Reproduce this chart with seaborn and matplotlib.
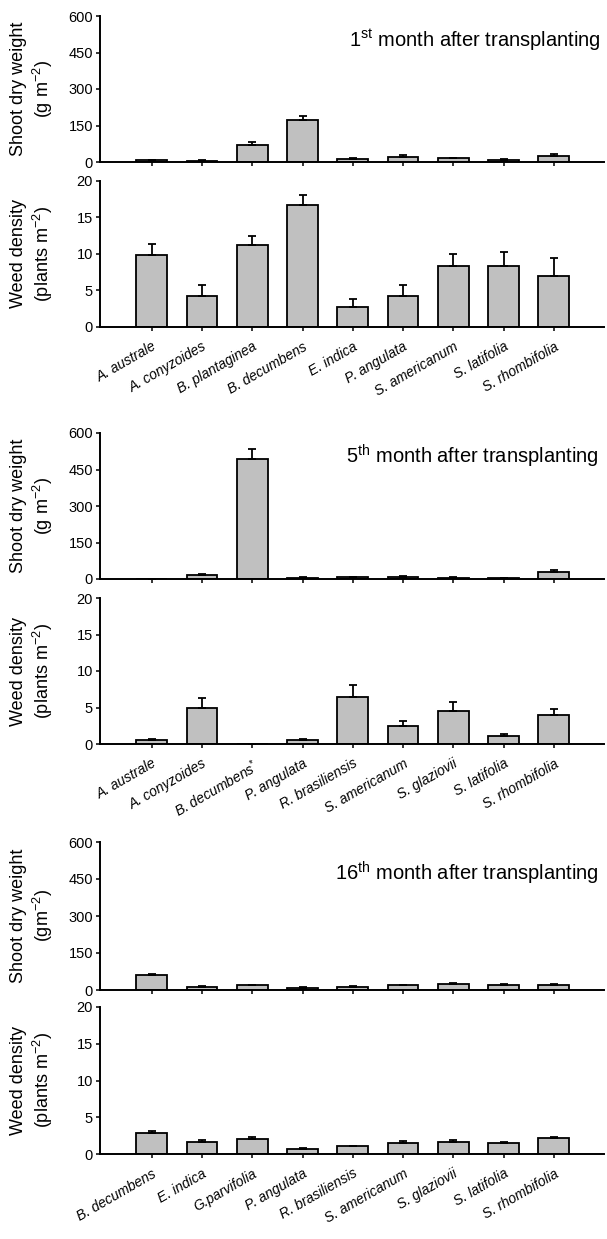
import numpy as np
import pandas as pd
import matplotlib
matplotlib.use('Agg')
import matplotlib.pyplot as plt
import seaborn as sns

# species per sampling date
species_1 = ['A. australe', 'A. conyzoides', 'B. plantaginea', 'B. decumbens', 'E. indica',
             'P. angulata', 'S. americanum', 'S. latifolia', 'S. rhombifolia']
species_5 = ['A. australe', 'A. conyzoides', 'B. decumbens$^{*}$', 'P. angulata', 'R. brasiliensis',
             'S. americanum', 'S. glaziovii', 'S. latifolia', 'S. rhombifolia']
species_16 = ['B. decumbens', 'E. indica', 'G.parvifolia', 'P. angulata', 'R. brasiliensis',
              'S. americanum', 'S. glaziovii', 'S. latifolia', 'S. rhombifolia']

# shoot dry weight (g m-2) and standard errors
shoot_1 = [7, 6, 68, 172, 12, 22, 15, 10, 26]
shoot_1_err = [2, 2, 15, 19, 4, 6, 2, 3, 8]
shoot_5 = [1, 15, 493, 5, 7, 8, 6, 4, 30]
shoot_5_err = [0.5, 4, 40, 2, 3, 3, 2, 1, 7]
shoot_16 = [60, 13, 19, 10, 13, 19, 26, 22, 22]
shoot_16_err = [4, 2, 2, 2, 2, 2, 2, 2, 2]

# weed density (plants m-2) and standard errors
dens_1 = [9.8, 4.2, 11.2, 16.7, 2.8, 4.2, 8.4, 8.4, 7.0]
dens_1_err = [1.5, 1.5, 1.25, 1.3, 1.0, 1.5, 1.6, 1.9, 2.4]
dens_5 = [0.5, 5.0, 0, 0.5, 6.5, 2.5, 4.5, 1.05, 4.0]
dens_5_err = [0.25, 1.3, 0, 0.2, 1.6, 0.6, 1.3, 0.3, 0.75]
dens_16 = [2.9, 1.65, 2.05, 0.7, 1.05, 1.5, 1.7, 1.45, 2.2]
dens_16_err = [0.2, 0.25, 0.3, 0.15, 0.1, 0.25, 0.2, 0.15, 0.15]

sns.set_style('ticks')
plt.rcParams['font.family'] = ['Liberation Sans', 'DejaVu Sans']
plt.rcParams['mathtext.fontset'] = 'custom'
plt.rcParams['mathtext.rm'] = 'Liberation Sans'
plt.rcParams['mathtext.it'] = 'Liberation Sans:italic'
plt.rcParams['mathtext.bf'] = 'Liberation Sans:bold'
for key in ['text.color', 'axes.labelcolor', 'xtick.color', 'ytick.color', 'axes.edgecolor']:
    plt.rcParams[key] = 'black'

fig = plt.figure(figsize=(6.07, 12.39), dpi=100)
W, H = 607, 1239


def make_ax(top, bottom):
    return fig.add_axes([100 / W, 1 - bottom / H, 504 / W, (bottom - top) / H])


def draw(ax, names, vals, errs, ymax, step, ylabel, labels=True):
    df = pd.DataFrame({'species': names, 'value': vals})
    sns.barplot(data=df, x='species', y='value', color='#c0c0c0', edgecolor='black',
                linewidth=1.3, width=0.61, saturation=1, errorbar=None, ax=ax)
    pos = np.arange(len(names))
    ax.errorbar(pos, vals, yerr=[np.zeros(len(errs)), errs], fmt='none', ecolor='black',
                elinewidth=1.3, capsize=3, capthick=1.3, zorder=5)
    ax.set_xlim(-1.03, 9.0)
    ax.set_ylim(0, ymax)
    ax.set_yticks(np.arange(0, ymax + 1, step))
    ax.set_xlabel('')
    ax.set_ylabel(ylabel, fontsize=13)
    ax.yaxis.set_label_coords(-0.09, 0.5)
    for s in ['top', 'right']:
        ax.spines[s].set_visible(False)
    for s in ['left', 'bottom']:
        ax.spines[s].set_linewidth(1.4)
    ax.tick_params(axis='both', length=3, width=1.1, labelsize=10.5, direction='out')
    ax.tick_params(axis='y', pad=2)
    ax.set_xticks(pos)
    if labels:
        ax.set_xticklabels(names, rotation=30, ha='right', rotation_mode='anchor',
                           style='italic', fontsize=10)
        ax.tick_params(axis='x', pad=6)
    else:
        ax.set_xticklabels([])


ax1 = make_ax(16, 162)
draw(ax1, species_1, shoot_1, shoot_1_err, 600, 150, 'Shoot dry weight\n(g m$^{-2}$)', labels=False)
ax1.text(0.994, 0.835, '1$^{\\mathrm{st}}$ month after transplanting', transform=ax1.transAxes,
         ha='right', va='center', fontsize=14.5)

ax2 = make_ax(180.7, 327)
draw(ax2, species_1, dens_1, dens_1_err, 20, 5, 'Weed density\n(plants m$^{-2}$)')

ax3 = make_ax(433, 579)
draw(ax3, species_5, shoot_5, shoot_5_err, 600, 150, 'Shoot dry weight\n(g m$^{-2}$)', labels=False)
ax3.text(0.99, 0.84, '5$^{\\mathrm{th}}$ month after transplanting', transform=ax3.transAxes,
         ha='right', va='center', fontsize=14.5)

ax4 = make_ax(598, 744)
draw(ax4, species_5, dens_5, dens_5_err, 20, 5, 'Weed density\n(plants m$^{-2}$)')

ax5 = make_ax(842, 990)
draw(ax5, species_16, shoot_16, shoot_16_err, 600, 150, 'Shoot dry weight\n(gm$^{-2}$)', labels=False)
ax5.text(0.99, 0.79, '16$^{\\mathrm{th}}$ month after transplanting', transform=ax5.transAxes,
         ha='right', va='center', fontsize=14.5)

ax6 = make_ax(1007, 1154)
draw(ax6, species_16, dens_16, dens_16_err, 20, 5, 'Weed density\n(plants m$^{-2}$)')

fig.savefig('out.png', dpi=100)
